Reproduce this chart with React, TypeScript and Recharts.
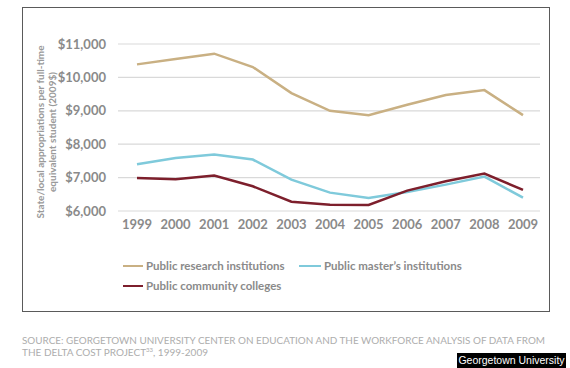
import React from 'react';
import { LineChart, Line, XAxis, YAxis, CartesianGrid } from 'recharts';

const years = ['1999', '2000', '2001', '2002', '2003', '2004', '2005', '2006', '2007', '2008', '2009'];
const researchInstitutions = [10390, 10550, 10710, 10310, 9530, 9000, 8870, 9180, 9470, 9620, 8870];
const mastersInstitutions = [7400, 7590, 7690, 7540, 6940, 6550, 6390, 6570, 6790, 7030, 6400];
const communityColleges = [6990, 6950, 7060, 6740, 6280, 6190, 6180, 6610, 6890, 7120, 6630];
const yTicks = [6000, 7000, 8000, 9000, 10000, 11000];

const seriesKeys = ['research', 'masters', 'community'];
const seriesNames = ['Public research institutions', 'Public master\u2019s institutions', 'Public community colleges'];
const seriesColors = ['#c9b083', '#7fcadb', '#7d1f2c'];
const yTitleLines = ['State/local appropriations per full-time', 'equivalent student (2009$)'];
const sourceLine1 = 'SOURCE: GEORGETOWN UNIVERSITY CENTER ON EDUCATION AND THE WORKFORCE ANALYSIS OF DATA FROM';
const sourceLine2a = 'THE DELTA COST PROJECT';
const sourceSup = '33';
const sourceLine2b = ', 1999-2009';
const creditText = 'Georgetown University';

const data = years.map((year, i) => ({
  year,
  research: researchInstitutions[i],
  masters: mastersInstitutions[i],
  community: communityColleges[i],
}));

const FONT = 'Lato, "Open Sans", sans-serif';
const TEXT_GRAY = '#8a8a8a';

const formatDollar = (v: number) => '$' + v.toLocaleString('en-US');

const legendLayout = [
  { left: 123, top: 259, swatch: 20 },
  { left: 299, top: 259, swatch: 22 },
  { left: 123, top: 279, swatch: 20 },
];

const YTitle = () => (
  <g>
    {yTitleLines.map((line, i) => {
      const x = 40 + i * 12;
      const y = 132;
      return (
        <text
          key={line}
          x={x}
          y={y}
          transform={`rotate(-90, ${x}, ${y})`}
          textAnchor="middle"
          dominantBaseline="central"
          fontFamily={FONT}
          fontWeight={700}
          fontSize={10}
          fill="#9a9a9a"
        >
          {line}
        </text>
      );
    })}
  </g>
);

export default function App() {
  return (
    <div
      style={{
        position: 'absolute',
        left: 0,
        top: 0,
        width: 570,
        height: 368,
        background: '#ffffff',
        overflow: 'hidden',
      }}
    >
      <div
        style={{
          position: 'absolute',
          left: 22,
          top: 7,
          width: 526,
          height: 303,
          border: '1.3px solid #5a5a5a',
        }}
      />
      <div style={{ position: 'absolute', left: 0, top: 0 }}>
        <LineChart width={570} height={320} data={data} margin={{ top: 44, right: 30, bottom: 79, left: 0 }}>
          <CartesianGrid horizontal vertical={false} stroke="#d9d9d9" strokeWidth={1.2} />
          <XAxis
            dataKey="year"
            axisLine={false}
            tickLine={false}
            tickSize={0}
            tickMargin={9}
            height={30}
            padding={{ left: 19, right: 17 }}
            interval={0}
            tick={{ fill: TEXT_GRAY, fontSize: 13, fontWeight: 700, fontFamily: FONT }}
          />
          <YAxis
            width={118}
            domain={[6000, 11000]}
            ticks={yTicks}
            axisLine={false}
            tickLine={false}
            tickSize={0}
            tickMargin={12}
            tickFormatter={formatDollar}
            tick={{ fill: TEXT_GRAY, fontSize: 13, fontWeight: 700, fontFamily: FONT }}
            label={<YTitle />}
          />
          {seriesKeys.map((key, i) => (
            <Line
              key={key}
              type="linear"
              dataKey={key}
              name={seriesNames[i]}
              stroke={seriesColors[i]}
              strokeWidth={2.5}
              dot={false}
              isAnimationActive={false}
            />
          ))}
        </LineChart>
      </div>
      {seriesNames.map((name, i) => {
        const pos = legendLayout[i];
        return (
          <div
            key={name}
            style={{
              position: 'absolute',
              left: pos.left,
              top: pos.top,
              display: 'flex',
              alignItems: 'center',
              whiteSpace: 'nowrap',
            }}
          >
            <div style={{ width: pos.swatch, height: 2.5, background: seriesColors[i], marginRight: 3 }} />
            <span style={{ fontFamily: FONT, fontWeight: 700, fontSize: 11.5, color: TEXT_GRAY, lineHeight: '14px' }}>
              {name}
            </span>
          </div>
        );
      })}
      <svg width={570} height={368} style={{ position: 'absolute', left: 0, top: 0, pointerEvents: 'none' }}>
        <text x={22} y={344} fontFamily={FONT} fontSize={10} fill="#adadad" textLength={523} lengthAdjust="spacingAndGlyphs">
          {sourceLine1}
        </text>
        <text x={22} y={356} fontFamily={FONT} fontSize={10} fill="#adadad">
          {sourceLine2a}
          <tspan fontSize={6} dy={-4}>{sourceSup}</tspan>
          <tspan dy={4}>{sourceLine2b}</tspan>
        </text>
      </svg>
      <div
        style={{
          position: 'absolute',
          left: 457,
          top: 353,
          width: 109,
          height: 15,
          background: '#000000',
          color: '#ffffff',
          fontFamily: '"Liberation Sans", Arial, sans-serif',
          fontSize: 10.5,
          lineHeight: '15px',
          textAlign: 'center',
          whiteSpace: 'nowrap',
          overflow: 'hidden',
        }}
      >
        {creditText}
      </div>
    </div>
  );
}
